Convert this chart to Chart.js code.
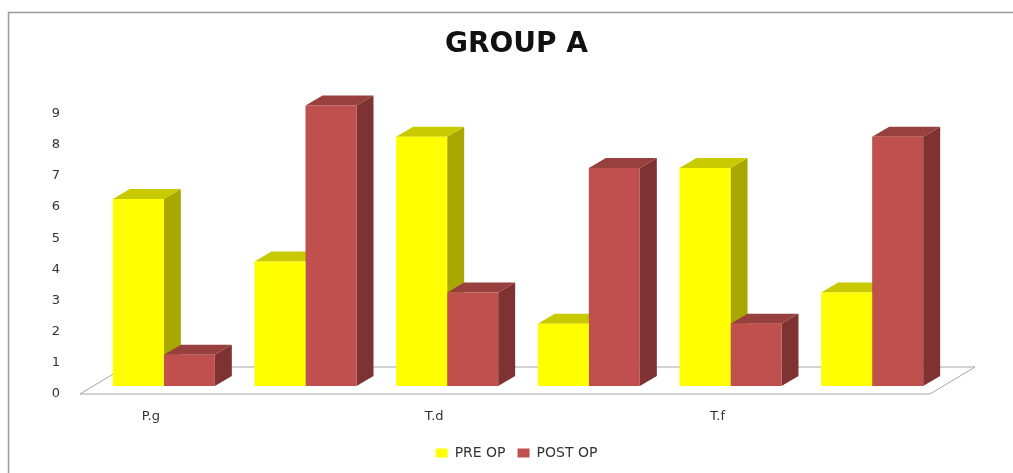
<!DOCTYPE html>
<html>
<head>
<meta charset="utf-8">
<title>GROUP A</title>
<script src="https://cdn.jsdelivr.net/npm/chart.js@4.4.1/dist/chart.umd.min.js"></script>
<style>
  html, body { margin: 0; padding: 0; background: #ffffff; }
  #wrap { width: 1013px; height: 473px; }
</style>
</head>
<body>
<div id="wrap"><canvas id="chart" width="1013" height="473"></canvas></div>
<script>
// Category labels along the floor (every other one is left blank)
const categories = ['P.g', '', 'T.d', '', 'T.f', ''];
// Scores before and after the operation
const preOp  = [6, 4, 8, 2, 7, 3];
const postOp = [1, 9, 3, 7, 2, 8];
// Value axis ticks
const yTicks = [0, 1, 2, 3, 4, 5, 6, 7, 8, 9];

// Depth of each 3D column (pixels to the right / up)
const DX = 17, DY = 10;

// Draws the frame, the floor plate and the side/top faces of every column;
// the front faces are the library's own bar elements.
const depth3d = {
  id: 'depth3d',
  beforeDraw(chart) {
    const ctx = chart.ctx;
    ctx.save();
    ctx.strokeStyle = '#9a9a9a';
    ctx.lineWidth = 1.5;
    ctx.beginPath();
    ctx.moveTo(8.5, 473);
    ctx.lineTo(8.5, 12.5);
    ctx.lineTo(1013, 12.5);
    ctx.stroke();
    ctx.restore();
  },
  beforeDatasetsDraw(chart) {
    const ctx = chart.ctx;
    const { left, right, bottom } = chart.chartArea;
    ctx.save();
    // floor
    ctx.beginPath();
    ctx.moveTo(left - 13, bottom + 8);
    ctx.lineTo(right - 13, bottom + 8);
    ctx.lineTo(right + 32, bottom - 19);
    ctx.lineTo(left + 32, bottom - 19);
    ctx.closePath();
    ctx.fillStyle = '#ffffff';
    ctx.fill();
    ctx.strokeStyle = '#a6a6a6';
    ctx.lineWidth = 1;
    ctx.stroke();

    const n = chart.data.labels.length;
    for (let j = 0; j < n; j++) {
      chart.data.datasets.forEach((ds, i) => {
        const el = chart.getDatasetMeta(i).data[j];
        if (!el) return;
        const { x, y, base, width } = el.getProps(['x', 'y', 'base', 'width'], true);
        const l = x - width / 2, r = x + width / 2;
        // side face
        ctx.fillStyle = ds.sideColor;
        ctx.beginPath();
        ctx.moveTo(r, y);
        ctx.lineTo(r + DX, y - DY);
        ctx.lineTo(r + DX, base - DY);
        ctx.lineTo(r, base);
        ctx.closePath();
        ctx.fill();
        // top face
        ctx.fillStyle = ds.topColor;
        ctx.beginPath();
        ctx.moveTo(l, y);
        ctx.lineTo(l + DX, y - DY);
        ctx.lineTo(r + DX, y - DY);
        ctx.lineTo(r, y);
        ctx.closePath();
        ctx.fill();
      });
    }
    ctx.restore();
  }
};

new Chart(document.getElementById('chart'), {
  type: 'bar',
  data: {
    labels: categories,
    datasets: [
      {
        label: 'PRE OP',
        data: preOp,
        backgroundColor: '#FFFF00',
        sideColor: '#A8A800',
        topColor: '#C9C900',
        borderWidth: 0,
        barPercentage: 1,
        categoryPercentage: 0.72
      },
      {
        label: 'POST OP',
        data: postOp,
        backgroundColor: '#C0504D',
        sideColor: '#7E3231',
        topColor: '#97403D',
        borderWidth: 0,
        barPercentage: 1,
        categoryPercentage: 0.72
      }
    ]
  },
  options: {
    responsive: false,
    animation: false,
    clip: false,
    layout: { padding: { left: 20, right: 0, top: 0, bottom: 3 } },
    plugins: {
      title: {
        display: true,
        text: 'GROUP A',
        color: '#111111',
        font: { family: 'DejaVu Sans', size: 28, weight: 'bold', lineHeight: 1.2 },
        padding: { top: 28, bottom: 44 }
      },
      legend: {
        position: 'bottom',
        labels: {
          color: '#333333',
          font: { family: 'DejaVu Sans', size: 14 },
          boxWidth: 12,
          boxHeight: 9,
          padding: 12
        }
      },
      tooltip: { enabled: false }
    },
    scales: {
      x: {
        grid: { display: false, drawTicks: false },
        border: { display: false },
        ticks: {
          color: '#333333',
          font: { family: 'DejaVu Sans', size: 13 },
          labelOffset: -13,
          padding: 23,
          maxRotation: 0,
          autoSkip: false
        },
        afterFit(scale) { scale.height = 48; }
      },
      y: {
        min: 0,
        max: 9,
        grid: { display: false, drawTicks: false },
        border: { display: false },
        afterBuildTicks(scale) { scale.ticks = yTicks.map(v => ({ value: v })); },
        ticks: {
          color: '#333333',
          font: { family: 'DejaVu Sans', size: 13 },
          labelOffset: 8,
          padding: 33
        },
        afterFit(scale) { scale.width = 73; }
      },
      // empty right-hand margin so the floor plate has room
      yRight: {
        position: 'right',
        min: 0,
        max: 9,
        grid: { display: false, drawTicks: false },
        border: { display: false },
        ticks: { display: false },
        afterFit(scale) { scale.width = 70; }
      }
    }
  },
  plugins: [depth3d]
});
</script>
</body>
</html>
